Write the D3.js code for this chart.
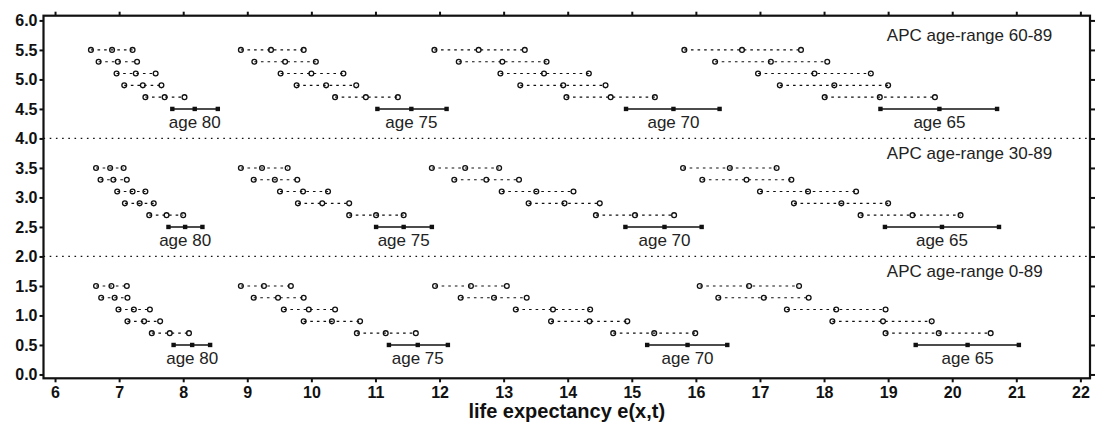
<!DOCTYPE html>
<html><head><meta charset="utf-8">
<script src="https://cdn.jsdelivr.net/npm/d3@7"></script>
<style>body{margin:0;background:#fff}svg{display:block}</style>
</head><body><svg id="c" width="1097" height="426"></svg>
<script>
// ---- data ----
const panelLabels = ["APC age-range 60-89", "APC age-range 30-89", "APC age-range 0-89"];
const panelBase = [4, 2, 0];
const ageLabels = ["age 80", "age 75", "age 70", "age 65"];
const rowOffsets = [1.5, 1.3, 1.1, 0.9, 0.7];
const solidOffset = 0.5;
const xTicks = d3.range(6, 23, 1);
const yTicks = d3.range(0, 6.01, 0.5);

// dotted rows per age group: [low, mid, high]
const dotted6089 = [
  [[6.56,6.89,7.21],[6.68,6.98,7.28],[6.96,7.26,7.57],[7.08,7.37,7.66],[7.41,7.71,8.02]],
  [[8.90,9.37,9.88],[9.11,9.59,10.07],[9.52,10.00,10.50],[9.77,10.23,10.70],[10.37,10.85,11.35]],
  [[11.92,12.61,13.33],[12.30,12.98,13.67],[12.95,13.63,14.33],[13.26,13.93,14.59],[13.98,14.67,15.36]],
  [[15.82,16.72,17.64],[16.30,17.17,18.05],[16.97,17.85,18.73],[17.31,18.16,19.00],[18.01,18.87,19.73]]
];
const solid6089 = [[7.83,8.18,8.54],[11.03,11.56,12.11],[14.91,15.65,16.37],[18.88,19.80,20.70]];

const dotted3089 = [
  [[6.64,6.86,7.07],[6.71,6.91,7.12],[6.97,7.21,7.41],[7.09,7.32,7.54],[7.47,7.74,8.00]],
  [[8.90,9.23,9.63],[9.10,9.43,9.78],[9.51,9.87,10.26],[9.79,10.17,10.59],[10.59,11.01,11.44]],
  [[11.88,12.40,12.93],[12.23,12.73,13.24],[12.97,13.51,14.09],[13.39,13.95,14.50],[14.44,15.05,15.66]],
  [[15.80,16.53,17.26],[16.10,16.79,17.49],[17.00,17.75,18.50],[17.53,18.27,19.00],[18.57,19.38,20.13]]
];
const solid3089 = [[7.77,8.03,8.30],[11.01,11.44,11.88],[14.90,15.51,16.09],[18.95,19.84,20.73]];

const dotted0089 = [
  [[6.64,6.88,7.12],[6.72,6.93,7.13],[6.99,7.23,7.48],[7.13,7.39,7.64],[7.51,7.79,8.09]],
  [[8.90,9.26,9.68],[9.10,9.48,9.88],[9.57,9.96,10.37],[9.88,10.32,10.76],[10.71,11.16,11.63]],
  [[11.93,12.49,13.05],[12.33,12.85,13.36],[13.19,13.77,14.35],[13.74,14.34,14.93],[14.71,15.35,15.99]],
  [[16.06,16.83,17.61],[16.35,17.06,17.76],[17.42,18.19,18.96],[18.13,18.92,19.68],[18.96,19.79,20.60]]
];
const solid0089 = [[7.85,8.14,8.42],[11.21,11.66,12.13],[15.24,15.87,16.49],[19.43,20.24,21.04]];

const dottedAll = [dotted6089, dotted3089, dotted0089];
const solidAll = [solid6089, solid3089, solid0089];

// ---- chart ----
const svg = d3.select("#c");
const L = 43.5, R = 1090, T = 15.7, B = 378.3;
const x = d3.scaleLinear().domain([5.82, 22.15]).range([L, R]);
const y = d3.scaleLinear().domain([-0.065, 6.08]).range([B, T]);
const ink = "#111";
const font = "'Liberation Sans', Arial, Helvetica, sans-serif";

// separators
[2, 4].forEach(v => {
  svg.append("line").attr("x1", L).attr("x2", R).attr("y1", y(v)).attr("y2", y(v))
    .attr("stroke", ink).attr("stroke-width", 1.2).attr("stroke-dasharray", "1.6,4.6");
});

const g = svg.append("g");
panelBase.forEach((base, p) => {
  g.append("text").attr("x", x(18.98)).attr("y", y(base + 1.658))
    .attr("font-family", font).attr("font-size", 17).attr("fill", "#222")
    .text(panelLabels[p]);
  dottedAll[p].forEach((rows, a) => {
    rows.forEach((r, i) => {
      const yy = y(base + rowOffsets[i]);
      g.append("line").attr("x1", x(r[0])).attr("x2", x(r[2])).attr("y1", yy).attr("y2", yy)
        .attr("stroke", ink).attr("stroke-width", 1.1).attr("stroke-dasharray", "2.6,4");
      g.selectAll(null).data(r).enter().append("circle")
        .attr("cx", d => x(d)).attr("cy", yy).attr("r", 2.4)
        .attr("fill", "none").attr("stroke", ink).attr("stroke-width", 1.3);
    });
    const s = solidAll[p][a];
    const ys = y(base + solidOffset);
    g.append("line").attr("x1", x(s[0])).attr("x2", x(s[2])).attr("y1", ys).attr("y2", ys)
      .attr("stroke", ink).attr("stroke-width", 1.4);
    g.selectAll(null).data(s).enter().append("rect")
      .attr("x", d => x(d) - 2.2).attr("y", ys - 2.2).attr("width", 4.4).attr("height", 4.4)
      .attr("fill", ink);
    g.append("text").attr("x", x(s[1])).attr("y", y(base + 0.173))
      .attr("text-anchor", "middle").attr("font-family", font).attr("font-size", 17)
      .attr("fill", "#222").text(ageLabels[a]);
  });
});

// axes
const axStyle = sel => {
  sel.select(".domain").remove();
  sel.selectAll(".tick line").attr("stroke", ink).attr("stroke-width", 2);
  sel.selectAll("text").attr("font-family", font).attr("font-weight", "bold")
    .attr("font-size", 16).attr("fill", ink);
};
svg.append("g").attr("transform", `translate(0,${B})`)
  .call(d3.axisBottom(x).tickValues(xTicks).tickSize(4).tickPadding(4).tickFormat(d3.format("d")))
  .call(axStyle);
svg.append("g").attr("transform", `translate(0,${T})`)
  .call(d3.axisTop(x).tickValues(xTicks).tickSize(4).tickFormat(""))
  .call(axStyle);
svg.append("g").attr("transform", `translate(${L},0)`)
  .call(d3.axisLeft(y).tickValues(yTicks).tickSize(4).tickPadding(2).tickFormat(d3.format(".1f")))
  .call(axStyle);
svg.append("g").attr("transform", `translate(${R},0)`)
  .call(d3.axisRight(y).tickValues(yTicks).tickSize(5).tickFormat(""))
  .call(axStyle);

// frame
svg.append("rect").attr("x", L).attr("y", T).attr("width", R - L).attr("height", B - T)
  .attr("fill", "none").attr("stroke", ink).attr("stroke-width", 2.2);

// title
svg.append("text").attr("x", (L + R) / 2).attr("y", 418).attr("text-anchor", "middle")
  .attr("font-family", font).attr("font-weight", "bold").attr("font-size", 20).attr("fill", ink)
  .text("life expectancy e(x,t)");
</script></body></html>
